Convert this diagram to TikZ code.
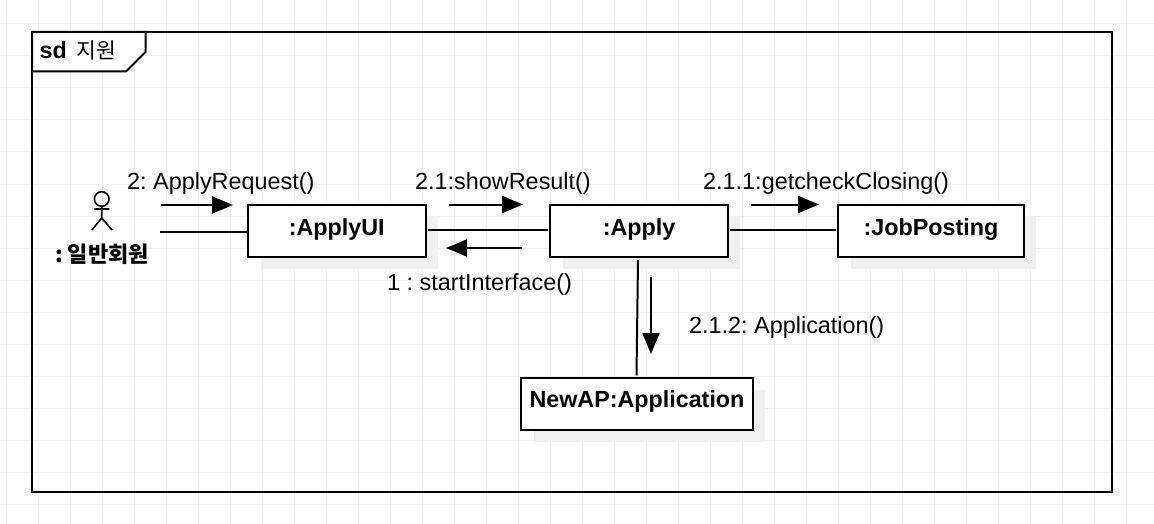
\documentclass[tikz,border=0pt]{standalone}
\usepackage{fontspec}
\setmainfont{Liberation Sans}
\newfontfamily\krfont{Noto Sans CJK KR}
\usetikzlibrary{arrows.meta}
\frenchspacing
\definecolor{gridc}{HTML}{F0F0F0}
\definecolor{shadowc}{HTML}{F0F0F0}
\tikzset{
  x=1pt,y=-1pt,
  objbox/.style={draw=black,line width=2pt,fill=white,inner sep=0pt,
    font=\fontsize{23.3}{26}\selectfont\bfseries,text height=18pt,text depth=10pt},
  msg/.style={font=\fontsize{23.4}{26}\selectfont,anchor=base west,inner sep=0pt},
  conn/.style={line width=2pt,black},
  flow/.style={line width=2pt,black,-{Triangle[length=21pt,width=17pt,fill=black]}},
  stick/.style={line width=1.6pt,black},
  shade/.style={fill=shadowc,draw=none}
}
\newcommand{\objbox}[7]{% name, x0, y0, x1, y1, text
  \fill[shade] (#2+13,#3+12) rectangle (#4+12,#5+12);
  \node[objbox,minimum width=#4-#2,minimum height=#5-#3] (#1) at ({(#2+#4)/2},{(#3+#5)/2}) {#6};
}
\begin{document}
\begin{tikzpicture}
\useasboundingbox (0,0) rectangle (1154,524);
\fill[white] (0,0) rectangle (1154,524);
% background grid
\foreach \gx in {0,...,35} \draw[gridc,line width=1pt] ({6.5+32*\gx},0) -- ({6.5+32*\gx},524);
\foreach \gy in {0,...,15} \draw[gridc,line width=1pt] (0,{24+32*\gy}) -- (1154,{24+32*\gy});
% frame
\draw[line width=2pt,black] (32,32) rectangle (1112,492);
\draw[line width=2pt,black,fill=white] (32,32) -- (145.5,32) -- (145.5,52) -- (126,71.5) -- (32,71.5) -- cycle;
\node[anchor=base west,inner sep=0pt,font=\fontsize{23.3}{26}\selectfont\bfseries] (sdlabel) at (39.5,59) {sd};
\node[anchor=base west,inner sep=0pt,font=\fontsize{21.5}{24}\krfont] (sdname) at (76.5,58.5) {지원};
% objects
\objbox{ui}{247.5}{205}{426}{257}{:ApplyUI}{}
\objbox{apply}{550}{205}{728}{257}{:Apply}{}
\objbox{job}{838}{205}{1024}{257}{:JobPosting}{}
\objbox{newap}{521}{377.5}{753}{430}{NewAP:Application}{}
% actor
\coordinate (actor) at (101.7,199);
\draw[stick] (actor) circle (7.3);
\draw[stick] (101.7,206.3) -- (101.7,218) (94.3,209) -- (109.3,209) (92,230) -- (101.7,218) -- (112,230);
\node[anchor=base,inner sep=0pt,font=\fontsize{22}{24}\krfont\bfseries] (actorlabel) at (102,262) {: 일반회원};
% connectors
\coordinate (afree) at (159.5,231.5);
\draw[conn] (afree) -- (ui.west |- afree);
\draw[conn] ([xshift=1pt,yshift=1pt]ui.east) -- ([xshift=-1pt,yshift=1pt]apply.west);
\draw[conn] ([xshift=1pt,yshift=1pt]apply.east) -- ([xshift=-1pt,yshift=1pt]job.west);
\draw[conn] ([xshift=-1pt,yshift=-2pt]apply.south) -- ([xshift=-0.5pt,yshift=1pt]newap.north);
% message arrows
\coordinate (m1a) at (161,205);   \coordinate (m1b) at (233,205);
\coordinate (m2a) at (449,204.5); \coordinate (m2b) at (523,204.5);
\coordinate (m3a) at (522,248);   \coordinate (m3b) at (446,248);
\coordinate (m4a) at (751,204.5); \coordinate (m4b) at (819,204.5);
\coordinate (m5a) at (651,277);   \coordinate (m5b) at (651,354);
\draw[flow] (m1a) -- (m1b);
\draw[flow] (m2a) -- (m2b);
\draw[flow] (m3a) -- (m3b);
\draw[flow] (m4a) -- (m4b);
\draw[flow] (m5a) -- (m5b);
% message labels
\node[msg] (l1) at (127,189.3) {2: ApplyRequest()};
\node[msg] (l2) at (415,189.3) {2.1:showResult()};
\node[msg] (l3) at (703,189.3) {2.1.1:getcheckClosing()};
\node[msg] (l4) at (387,290) {1 : startInterface()};
\node[msg] (l5) at (689,333) {2.1.2: Application()};
\end{tikzpicture}
\end{document}
